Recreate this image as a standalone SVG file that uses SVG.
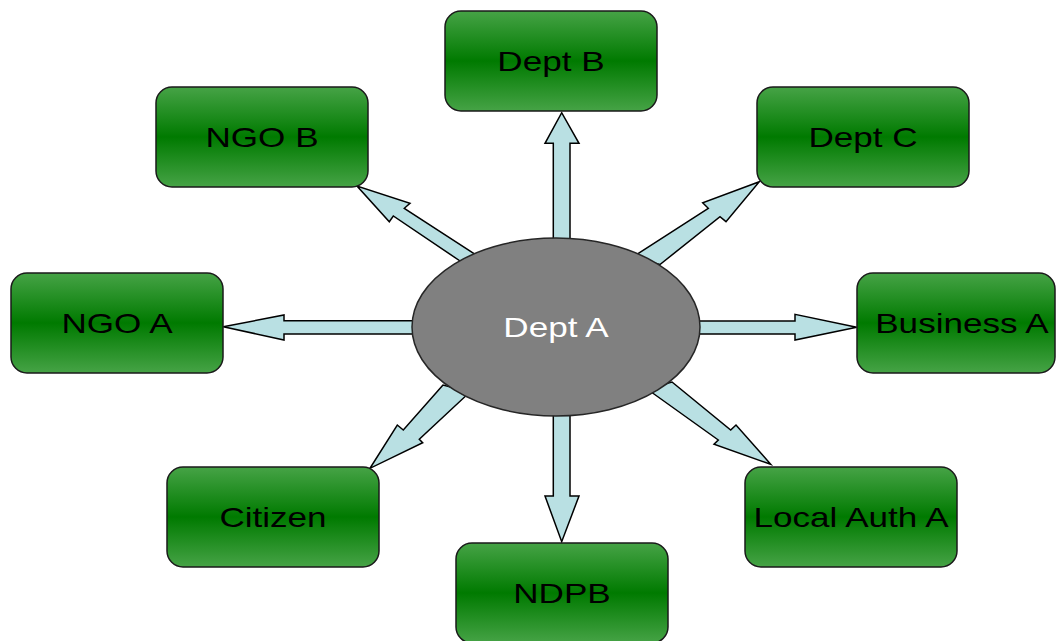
<svg xmlns="http://www.w3.org/2000/svg" width="1056" height="641" viewBox="0 0 1056 641">
<defs>
<linearGradient id="g" x1="0" y1="0" x2="0" y2="1">
<stop offset="0" stop-color="#46a346"/>
<stop offset="0.5" stop-color="#007a00"/>
<stop offset="1" stop-color="#46a346"/>
</linearGradient>
</defs>
<style>
.box{fill:url(#g);stroke:#1a1a1a;stroke-width:1.5}
.arr{fill:#b9e0e3;stroke:#000;stroke-width:1.5;stroke-linejoin:miter}
.t{font-family:"Liberation Sans",Arial,sans-serif;font-size:27px;text-anchor:middle;fill:#000}
.w{fill:#fff}
</style>
<rect width="1056" height="641" fill="#fff"/>
<g id="connectors">
<polygon class="arr" points="553.3,245 553.3,143.3 545,143.3 561.7,112.7 579,143.3 570,143.3 570,245"/>
<polygon class="arr" points="553.3,410 553.3,496 545,496 561.7,541.7 579,496 570,496 570,410"/>
<polygon class="arr" points="690,321 795,321 795,314.3 856.7,327.3 795,340 795,334 690,334"/>
<polygon class="arr" points="420,320.7 284,320.7 284,315 223.3,326.7 284,340 284,334 420,334"/>
<polygon class="arr" points="480,257.5 404.3,208.3 410,203.3 357,186 389.3,221.7 393.3,216 466,265"/>
<polygon class="arr" points="632,257.5 708.3,208.3 702.7,202.7 759.3,181.7 726,221.7 720,216.7 660,264.5"/>
<polygon class="arr" points="443,385 403.3,430 397.3,425 370,468.3 422.7,442.7 419.3,439.3 470,392"/>
<polygon class="arr" points="647,389 718.3,440 714,444.3 770.7,464.3 736,425 730.7,430 672,382"/>
</g>
<g id="dept-a">
<ellipse cx="556" cy="327" rx="144" ry="89" fill="#808080" stroke="#262626" stroke-width="1.5"/>
<text class="t w" transform="translate(556,337) scale(1.3,1)">Dept A</text>
</g>
<g id="dept-b">
<rect class="box" x="445" y="11" width="212" height="100" rx="16"/>
<text class="t" transform="translate(551,71) scale(1.3,1)">Dept B</text>
</g>
<g id="ngo-b">
<rect class="box" x="156" y="87" width="212" height="100" rx="16"/>
<text class="t" transform="translate(262,147) scale(1.3,1)">NGO B</text>
</g>
<g id="dept-c">
<rect class="box" x="757" y="87" width="212" height="100" rx="16"/>
<text class="t" transform="translate(863,147) scale(1.3,1)">Dept C</text>
</g>
<g id="ngo-a">
<rect class="box" x="11" y="273" width="212" height="100" rx="16"/>
<text class="t" transform="translate(117,333) scale(1.3,1)">NGO A</text>
</g>
<g id="business-a">
<rect class="box" x="857" y="273" width="198" height="100" rx="16"/>
<text class="t" transform="translate(962,333) scale(1.3,1)">Business A</text>
</g>
<g id="citizen">
<rect class="box" x="167" y="467" width="212" height="100" rx="16"/>
<text class="t" transform="translate(273,527) scale(1.3,1)">Citizen</text>
</g>
<g id="local-auth-a">
<rect class="box" x="745" y="467" width="212" height="100" rx="16"/>
<text class="t" transform="translate(851,527) scale(1.3,1)">Local Auth A</text>
</g>
<g id="ndpb">
<rect class="box" x="456" y="543" width="212" height="100" rx="16"/>
<text class="t" transform="translate(562,603) scale(1.3,1)">NDPB</text>
</g>
</svg>
